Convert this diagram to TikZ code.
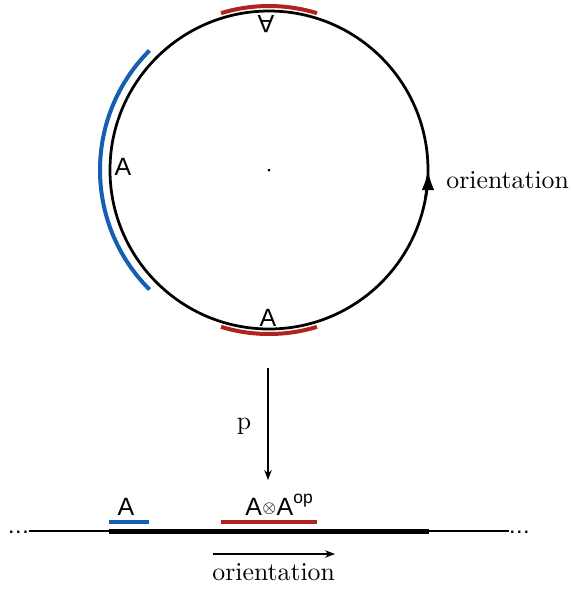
\documentclass[tikz,border=0pt]{standalone}
\usepackage{fontspec}
\newfontfamily\sansA{Liberation Sans}
\usetikzlibrary{arrows.meta}
\definecolor{myred}{RGB}{178,34,30}
\definecolor{myblue}{RGB}{22,94,180}
\tikzset{
  serif/.style={font=\fontsize{10.3}{12}\selectfont, inner sep=0pt},
  sanslbl/.style={font=\sansA\fontsize{10}{12}\selectfont, inner sep=0pt},
  redarc/.style={draw=myred, line width=1.6pt},
  bluearc/.style={draw=myblue, line width=1.6pt},
  thinline/.style={line width=0.5pt},
  dotsnode/.style={font=\sansA\bfseries\fontsize{6.5}{6.5}\selectfont, inner sep=0pt},
}
\begin{document}
\begin{tikzpicture}[x=0.4pt,y=0.4pt]
\useasboundingbox (0,0) rectangle (571,-589);
\coordinate (c) at (269,-170);
% circle
\draw[line width=1.1pt] (c) circle[radius=159];
\fill (c) circle[radius=1.5];
% arcs
\draw[bluearc] ([shift={(135:169)}]c) arc[start angle=135,end angle=225,radius=169];
\draw[redarc] ([shift={(73:164)}]c) arc[start angle=73,end angle=107,radius=164];
\draw[redarc] ([shift={(253:164)}]c) arc[start angle=253,end angle=287,radius=164];
% orientation arrow on circle
\draw[line width=1.1pt,-{Latex[length=8pt,width=5pt]}] ([shift={(-10:159)}]c) arc[start angle=-10,end angle=0,radius=159];
\node[serif, anchor=base west] (orc) at (446,-188) {orientation};
% labels on circle
\node[sanslbl, rotate=180] (atop) at (266,-24) {A};
\node[sanslbl] (aleft) at (123,-167) {A};
\node[sanslbl] (abot) at (268,-318) {A};
% projection
\coordinate (p1) at (268,-368);
\coordinate (p2) at (268,-480);
\draw[thinline,-{Stealth[length=4pt,width=3pt]}] (p1) -- (p2);
\node[serif] (plbl) at (244,-426) {p};
% line
\coordinate (l1) at (29,-531);
\coordinate (l2) at (509,-531);
\coordinate (t1) at (109,-531);
\coordinate (t2) at (429,-531);
\draw[thinline] (l1) -- (l2);
\draw[line width=2pt] (t1) -- (t2);
\node[dotsnode, anchor=base] (dl) at (18.5,-533) {.\kern1pt.\kern1pt.};
\node[dotsnode, anchor=base] (dr) at (519.5,-533) {.\kern1pt.\kern1pt.};
\coordinate (b1) at (109,-522);
\coordinate (b2) at (149,-522);
\coordinate (r1) at (221,-522);
\coordinate (r2) at (317,-522);
\draw[bluearc] (b1) -- (b2);
\draw[redarc] (r1) -- (r2);
\node[sanslbl, anchor=base] (la) at (126,-515) {A};
\node[sanslbl, anchor=base west] (laa) at (245,-515) {A\raisebox{0.9pt}{\fontsize{5.6}{5.6}\selectfont$\otimes$}A\textsuperscript{\raisebox{0.8pt}{op}}};
% orientation arrow bottom
\coordinate (o1) at (213,-554);
\coordinate (o2) at (335,-554);
\draw[thinline,-{Stealth[length=4pt,width=3pt]}] (o1) -- (o2);
\node[serif, anchor=base west] (olbl) at (212,-580) {orientation};
\end{tikzpicture}
\end{document}
